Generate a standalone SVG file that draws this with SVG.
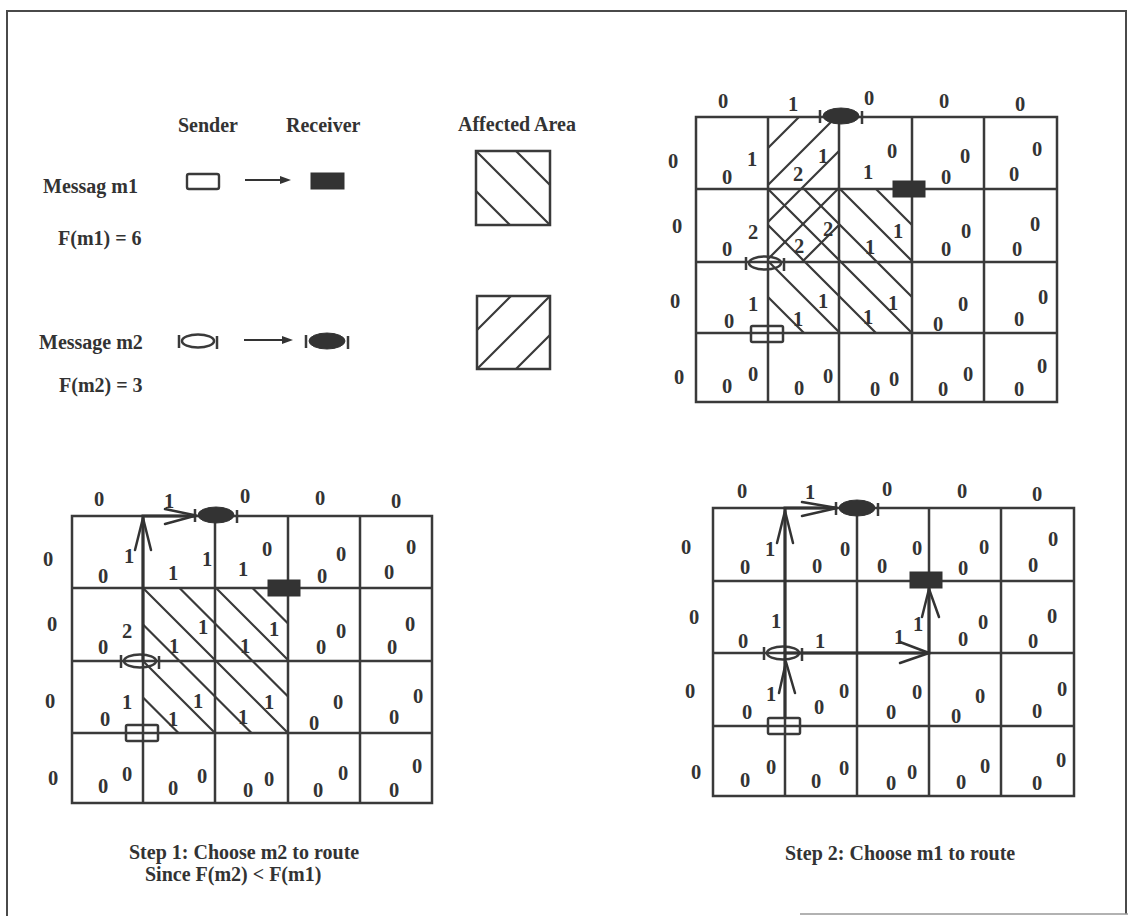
<svg xmlns="http://www.w3.org/2000/svg" xmlns:xlink="http://www.w3.org/1999/xlink" width="1128" height="916" viewBox="0 0 1128 916">
<style>
.frame{stroke:#4a4a4a;stroke-width:2;fill:none}
.grid{stroke:#3a3a3a;stroke-width:2.5;fill:none;stroke-linecap:square}
.hatch{stroke:#3a3a3a;stroke-width:2.2;fill:none}
.route{stroke:#333;stroke-width:3;fill:none}
.head{stroke:#333;stroke-width:2.5;fill:none;stroke-linecap:round;stroke-linejoin:round}
.t{font-family:"Liberation Serif","Times New Roman",serif;font-weight:bold;fill:#333}
.lg{font-size:20px}
.n{font-size:20.5px;text-anchor:middle}
.ol{stroke:#3a3a3a;stroke-width:2.5;fill:none}
.fl{fill:#333;stroke:#333;stroke-width:1}
</style>
<defs>
<g id="sendRect"><rect x="-16" y="-8" width="32" height="16" rx="1.5" class="ol"/></g>
<g id="recvRect"><rect x="-16" y="-8" width="32" height="16" class="fl"/></g>
<g id="sendEll"><ellipse rx="16" ry="6.5" class="ol"/><path d="M-19 -6V7M19 -5V8" class="ol"/></g>
<g id="recvEll"><ellipse rx="18" ry="8" class="fl"/><path d="M-21 -6V7M21 -5V8" class="ol"/></g>
</defs>
<rect width="1128" height="916" fill="#fff"/>
<g id="frame">
<path class="frame" d="M7 916V11H1126V914"/>
<path d="M800 914H1128" stroke="#999" stroke-width="1.5"/>
</g>

<g id="legend">
<text class="t lg" x="178" y="132">Sender</text>
<text class="t lg" x="286" y="132">Receiver</text>
<text class="t lg" x="458" y="131">Affected Area</text>
<g id="legend-m1">
<text class="t lg" x="43" y="193">Messag m1</text>
<text class="t lg" x="58" y="245">F(m1) = 6</text>
<rect x="187" y="174" width="32" height="15" rx="2" fill="#fff" stroke="#3a3a3a" stroke-width="2.4"/>
<path d="M245 180H282" stroke="#333" stroke-width="2"/>
<path d="M280 176L291 180L280 184Z" fill="#333"/>
<rect x="311" y="173" width="33" height="16" class="fl"/>
</g>
<g id="legend-m2">
<text class="t lg" x="39" y="349">Message m2</text>
<text class="t lg" x="59" y="392">F(m2) = 3</text>
<use href="#sendEll" x="198" y="341"/>
<path d="M244 340H284" stroke="#333" stroke-width="2"/>
<path d="M282 336L293 340L282 344Z" fill="#333"/>
<use href="#recvEll" x="327" y="341"/>
</g>
<g id="legend-area1">
<rect x="476" y="151" width="74" height="74" class="grid"/>
<path class="hatch" d="M476 191L510 225M476 151L550 225M516 151L550 185"/>
</g>
<g id="legend-area2">
<rect x="477" y="296" width="73" height="73" class="grid"/>
<path class="hatch" d="M477 330L511 296M477 369L550 296M516 369L550 335"/>
</g>
</g>

<g id="gridA">
<path class="hatch" d="M876 189L912 225M840 189L912 261M804 189L912 297M768 189L912 333M768 225L876 333M768 261L840 333M768 297L804 333"/>
<path class="hatch" d="M768 148L799 117M768 185L836 117M768 222L839 151M768 259L839 188M802 262L839 225"/>
<path class="grid" d="M696 117H1057M696 189H1057M696 262H1057M696 333H1057M696 402H1057M696 117V402M768 117V402M839 117V402M912 117V402M984 117V402M1057 117V402"/>
<g class="t n">
<text x="723" y="108">0</text><text x="793" y="111">1</text><text x="869" y="105">0</text><text x="944" y="108">0</text><text x="1020" y="111">0</text>
<text x="673" y="168">0</text><text x="677" y="233">0</text><text x="675" y="308">0</text><text x="679" y="384">0</text>
<text x="752" y="166">1</text><text x="727" y="184">0</text><text x="823" y="163">1</text><text x="798" y="181">2</text><text x="892" y="158">0</text><text x="868" y="179">1</text><text x="965" y="163">0</text><text x="946" y="184">0</text><text x="1037" y="156">0</text><text x="1014" y="181">0</text>
<text x="753" y="239">2</text><text x="727" y="256">0</text><text x="828" y="236">2</text><text x="799" y="253">2</text><text x="898" y="238">1</text><text x="870" y="254">1</text><text x="966" y="238">0</text><text x="946" y="256">0</text><text x="1035" y="231">0</text><text x="1017" y="256">0</text>
<text x="753" y="311">1</text><text x="729" y="328">0</text><text x="823" y="308">1</text><text x="798" y="326">1</text><text x="893" y="310">1</text><text x="868" y="324">1</text><text x="963" y="311">0</text><text x="938" y="331">0</text><text x="1043" y="304">0</text><text x="1019" y="326">0</text>
<text x="753" y="381">0</text><text x="727" y="393">0</text><text x="828" y="383">0</text><text x="799" y="395">0</text><text x="894" y="386">0</text><text x="875" y="396">0</text><text x="968" y="381">0</text><text x="943" y="396">0</text><text x="1042" y="373">0</text><text x="1019" y="396">0</text>
</g>
<g id="A-recv-m2"><use href="#recvEll" x="841" y="116"/></g>
<g id="A-recv-m1"><use href="#recvRect" x="909" y="189"/></g>
<g id="A-send-m2"><use href="#sendEll" x="765" y="263"/></g>
<g id="A-send-m1"><use href="#sendRect" x="767" y="334"/></g>
</g>

<g id="gridB">
<path class="hatch" d="M252.5 588L288 623.5M216 588L288 660M179.5 588L288 696.5M143 588L288 733M143 624.5L251.5 733M143 661L215 733M143 697.5L178.5 733"/>
<path class="grid" d="M72 516H432M72 588H432M72 661H432M72 733H432M72 803H432M72 516V803M143 516V803M215 516V803M288 516V803M360 516V803M432 516V803"/>
<g class="t n">
<text x="99" y="506">0</text><text x="169" y="508">1</text><text x="245" y="503">0</text><text x="320" y="505">0</text><text x="396" y="508">0</text>
<text x="48" y="566">0</text><text x="52" y="631">0</text><text x="50" y="708">0</text><text x="53" y="785">0</text>
<text x="129" y="563">1</text><text x="103" y="583">0</text><text x="207" y="566">1</text><text x="173" y="580">1</text><text x="267" y="556">0</text><text x="243" y="576">1</text><text x="341" y="561">0</text><text x="322" y="583">0</text><text x="411" y="554">0</text><text x="389" y="579">0</text>
<text x="127" y="638">2</text><text x="103" y="654">0</text><text x="203" y="634">1</text><text x="174" y="653">1</text><text x="274" y="636">1</text><text x="245" y="653">1</text><text x="341" y="638">0</text><text x="321" y="654">0</text><text x="410" y="631">0</text><text x="392" y="654">0</text>
<text x="127" y="709">1</text><text x="105" y="726">0</text><text x="198" y="708">1</text><text x="173" y="726">1</text><text x="269" y="709">1</text><text x="243" y="724">1</text><text x="338" y="709">0</text><text x="314" y="730">0</text><text x="418" y="703">0</text><text x="394" y="724">0</text>
<text x="127" y="781">0</text><text x="103" y="793">0</text><text x="202" y="783">0</text><text x="173" y="795">0</text><text x="269" y="786">0</text><text x="248" y="797">0</text><text x="343" y="780">0</text><text x="318" y="797">0</text><text x="417" y="773">0</text><text x="394" y="797">0</text>
</g>
<g id="B-recv-m2"><use href="#recvEll" x="216" y="515"/></g>
<g id="B-recv-m1"><use href="#recvRect" x="284" y="588"/></g>
<g id="B-send-m2"><use href="#sendEll" x="140" y="661"/></g>
<g id="B-send-m1"><use href="#sendRect" x="142" y="733"/></g>
</g>

<g id="gridC">
<path class="grid" d="M713 508H1074M713 581H1074M713 653H1074M713 726H1074M713 796H1074M713 508V796M785 508V796M857 508V796M929 508V796M1001 508V796M1074 508V796"/>
<g class="t n">
<text x="742" y="498">0</text><text x="810" y="499">1</text><text x="887" y="496">0</text><text x="962" y="498">0</text><text x="1037" y="501">0</text>
<text x="686" y="554">0</text><text x="694" y="624">0</text><text x="690" y="698">0</text><text x="696" y="779">0</text>
<text x="770" y="556">1</text><text x="745" y="574">0</text><text x="845" y="556">0</text><text x="817" y="573">0</text><text x="917" y="555">0</text><text x="882" y="573">0</text><text x="984" y="554">0</text><text x="963" y="575">0</text><text x="1053" y="546">0</text><text x="1033" y="572">0</text>
<text x="776" y="628">1</text><text x="743" y="648">0</text><text x="820" y="648">1</text><text x="918" y="631">1</text><text x="899" y="644">1</text><text x="983" y="629">0</text><text x="963" y="646">0</text><text x="1052" y="623">0</text><text x="1033" y="648">0</text>
<text x="771" y="701">1</text><text x="747" y="719">0</text><text x="844" y="698">0</text><text x="819" y="714">0</text><text x="917" y="699">0</text><text x="891" y="719">0</text><text x="980" y="703">0</text><text x="956" y="723">0</text><text x="1062" y="696">0</text><text x="1037" y="718">0</text>
<text x="771" y="774">0</text><text x="745" y="787">0</text><text x="844" y="775">0</text><text x="816" y="788">0</text><text x="912" y="779">0</text><text x="891" y="790">0</text><text x="985" y="773">0</text><text x="961" y="789">0</text><text x="1061" y="767">0</text><text x="1037" y="790">0</text>
</g>
<g id="C-recv-m2"><use href="#recvEll" x="857" y="508"/></g>
<g id="C-recv-m1"><use href="#recvRect" x="926" y="580"/></g>
<g id="C-send-m2"><use href="#sendEll" x="783" y="653"/></g>
<g id="C-send-m1"><use href="#sendRect" x="784" y="726"/></g>
</g>

<g id="connectors">
<g id="B-route-m2">
<path class="route" d="M143 661V516H195"/>
<path class="head" d="M135 550L143 518L151 550"/>
<path class="head" d="M165 509L196 515.5L165 524"/>
</g>
<g id="C-route-m2">
<path class="route" d="M785 653V508H837"/>
<path class="head" d="M777 543L785 511L793 543"/>
<path class="head" d="M802 502L837 508L802 516"/>
</g>
<g id="C-route-m1">
<path class="route" d="M785 718V653H929V588"/>
<path class="head" d="M779 693L786 662L795 693"/>
<path class="head" d="M900 642L929 653L900 663"/>
<path class="head" d="M922 617L929 589L939 617"/>
</g>
</g>

<g id="captions">
<text class="t lg" x="129" y="859">Step 1: Choose m2 to route</text>
<text class="t lg" x="145" y="881">Since F(m2) &lt; F(m1)</text>
<text class="t lg" x="785" y="860">Step 2: Choose m1 to route</text>
</g>
</svg>
